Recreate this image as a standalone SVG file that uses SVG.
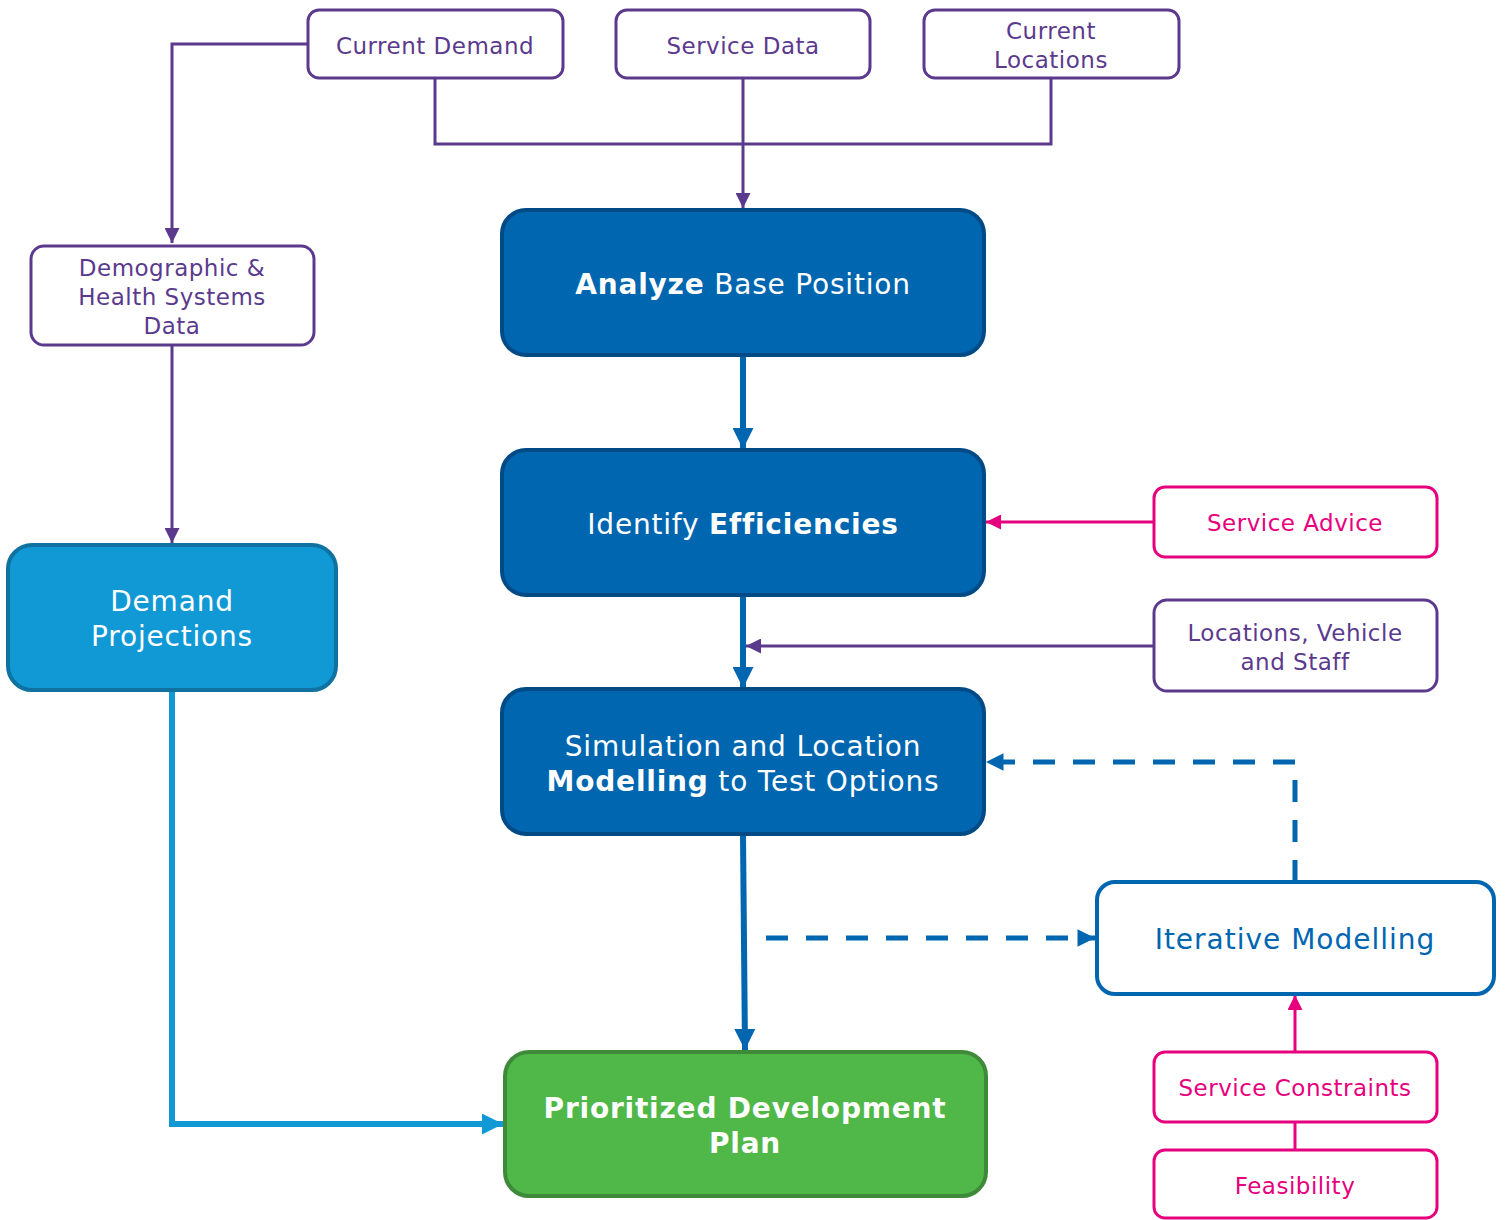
<svg xmlns="http://www.w3.org/2000/svg" width="1507" height="1220" viewBox="0 0 1507 1220">
<defs>
<style>
text{font-family:"DejaVu Sans","Verdana",sans-serif;text-anchor:middle}
.pin{fill:#fff;stroke:#5b3a8e;stroke-width:3}
.pk{fill:#fff;stroke:#e6007e;stroke-width:3}
.tp{fill:#5b3a8e;font-size:23px;letter-spacing:0.5px}
.tk{fill:#e6007e;font-size:23px;letter-spacing:0.5px}
.big{fill:#0066b0;stroke:#004a85;stroke-width:4}
.tw{fill:#fff;font-size:28px;letter-spacing:0.8px}
.b{font-weight:bold}
.lp{fill:none;stroke:#5b3a8e;stroke-width:3}
.lk{fill:none;stroke:#e6007e;stroke-width:3}
.lb{fill:none;stroke:#0066b0;stroke-width:6}
.ld{fill:none;stroke:#0066b0;stroke-width:5;stroke-dasharray:22 18}
.ll{fill:none;stroke:#1199d6;stroke-width:6}
</style>
<marker id="ap" viewBox="0 0 10 10" refX="10" refY="5" markerWidth="5" markerHeight="5" markerUnits="strokeWidth" orient="auto"><path d="M0,0L10,5L0,10z" fill="#5b3a8e"/></marker>
<marker id="ak" viewBox="0 0 10 10" refX="10" refY="5" markerWidth="5" markerHeight="5" markerUnits="strokeWidth" orient="auto"><path d="M0,0L10,5L0,10z" fill="#e6007e"/></marker>
<marker id="ab" viewBox="0 0 10 10" refX="10" refY="5" markerWidth="4" markerHeight="3.5" markerUnits="strokeWidth" orient="auto"><path d="M0,0L10,5L0,10z" fill="#0066b0"/></marker>
<marker id="al" viewBox="0 0 10 10" refX="10" refY="5" markerWidth="4" markerHeight="3.5" markerUnits="strokeWidth" orient="auto"><path d="M0,0L10,5L0,10z" fill="#1199d6"/></marker>
</defs>
<g id="connectors">
<path class="lp" d="M308,44H172V243" marker-end="url(#ap)"/>
<path class="lp" d="M435,78V144H1051V78"/>
<path class="lp" d="M743,78V208" marker-end="url(#ap)"/>
<path class="lp" d="M172,345V543" marker-end="url(#ap)"/>
<path class="lb" d="M743,355V449" marker-end="url(#ab)"/>
<path class="lb" d="M743,595V688" marker-end="url(#ab)"/>
<path class="lk" d="M1154,522H986" marker-end="url(#ak)"/>
<path class="lp" d="M1154,646H746" marker-end="url(#ap)"/>
<path class="lb" d="M743,834L745,1050" marker-end="url(#ab)"/>
<path class="ld" d="M766,938H1095" marker-end="url(#ab)"/>
<path class="ld" d="M1295,882V762H986" marker-end="url(#ab)"/>
<path class="lk" d="M1295,1052V995" marker-end="url(#ak)"/>
<path class="lk" d="M1295,1122V1150"/>
<path class="ll" d="M172,690V1124H503" marker-end="url(#al)"/>
</g>
<g id="current-demand"><rect class="pin" x="308" y="10" width="255" height="68" rx="11"/><text class="tp" x="435" y="54">Current Demand</text></g>
<g id="service-data"><rect class="pin" x="616" y="10" width="254" height="68" rx="11"/><text class="tp" x="743" y="54">Service Data</text></g>
<g id="current-locations"><rect class="pin" x="924" y="10" width="255" height="68" rx="11"/><text class="tp" x="1051" y="39">Current</text><text class="tp" x="1051" y="68">Locations</text></g>
<g id="demographic"><rect class="pin" x="31" y="246" width="283" height="99" rx="13"/><text class="tp" x="172" y="276">Demographic &amp;</text><text class="tp" x="172" y="305">Health Systems</text><text class="tp" x="172" y="334">Data</text></g>
<g id="analyze"><rect class="big" x="502" y="210" width="482" height="145" rx="24"/><text class="tw" x="743" y="294"><tspan class="b">Analyze</tspan> Base Position</text></g>
<g id="identify"><rect class="big" x="502" y="450" width="482" height="145" rx="24"/><text class="tw" x="743" y="534">Identify <tspan class="b">Efficiencies</tspan></text></g>
<g id="simulation"><rect class="big" x="502" y="689" width="482" height="145" rx="24"/><text class="tw" x="743" y="756">Simulation and Location</text><text class="tw" x="743" y="791"><tspan class="b">Modelling</tspan> to Test Options</text></g>
<g id="demand-projections"><rect x="8" y="545" width="328" height="145" rx="24" fill="#1199d6" stroke="#0f72a0" stroke-width="4"/><text class="tw" x="172" y="611">Demand</text><text class="tw" x="172" y="646">Projections</text></g>
<g id="prioritized"><rect x="505" y="1052" width="481" height="144" rx="24" fill="#50b848" stroke="#3f8a3a" stroke-width="4"/><text class="tw b" x="745" y="1118">Prioritized Development</text><text class="tw b" x="745" y="1153">Plan</text></g>
<g id="service-advice"><rect class="pk" x="1154" y="487" width="283" height="70" rx="11"/><text class="tk" x="1295" y="531">Service Advice</text></g>
<g id="locations-vehicle-staff"><rect class="pin" x="1154" y="600" width="283" height="91" rx="13"/><text class="tp" x="1295" y="641">Locations, Vehicle</text><text class="tp" x="1295" y="670">and Staff</text></g>
<g id="iterative"><rect x="1097" y="882" width="397" height="112" rx="18" fill="#fff" stroke="#0066b0" stroke-width="4"/><text x="1295" y="949" fill="#0066b0" font-size="28" letter-spacing="1">Iterative Modelling</text></g>
<g id="service-constraints"><rect class="pk" x="1154" y="1052" width="283" height="70" rx="11"/><text class="tk" x="1295" y="1096">Service Constraints</text></g>
<g id="feasibility"><rect class="pk" x="1154" y="1150" width="283" height="68" rx="11"/><text class="tk" x="1295" y="1194">Feasibility</text></g>
</svg>
